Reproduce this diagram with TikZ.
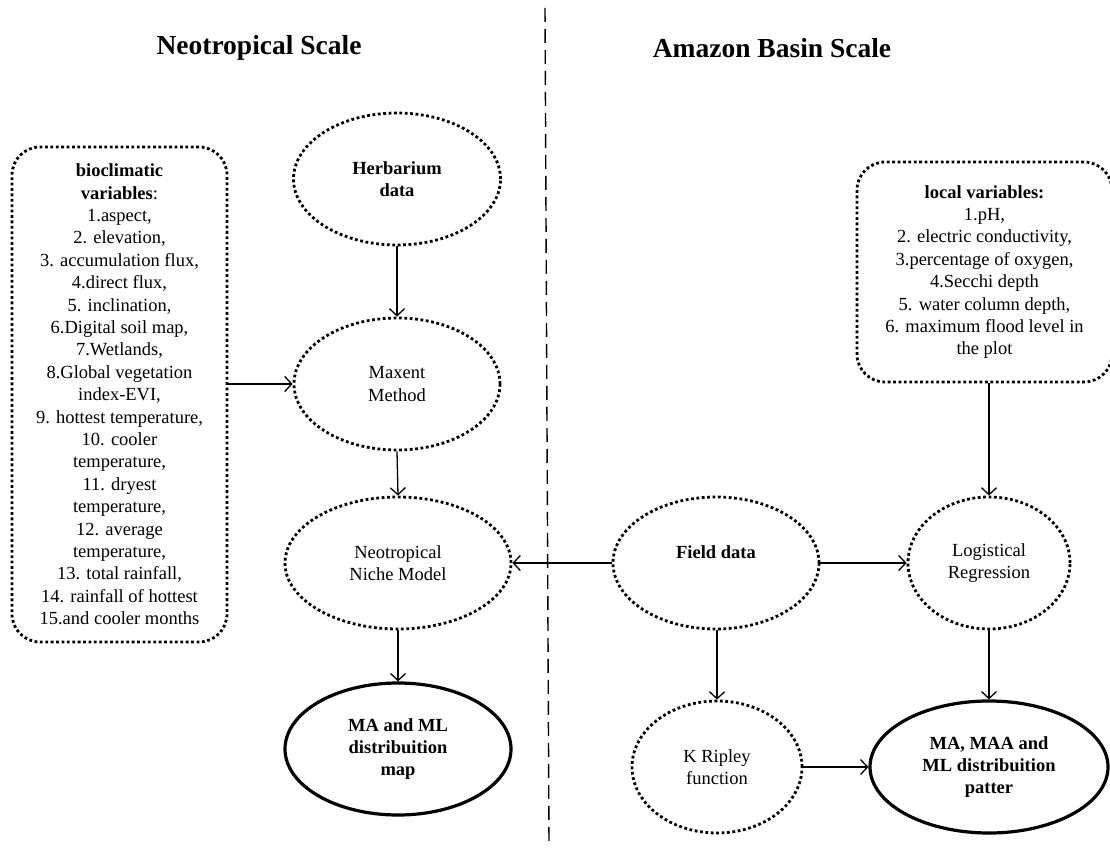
\documentclass[tikz,border=0pt]{standalone}
\usepackage{fontspec}
\setmainfont{Liberation Serif}
\usetikzlibrary{shapes.geometric,arrows.meta}
\begin{document}
\begin{tikzpicture}[x=1pt,y=-1pt,
  body/.style={font=\fontsize{18.5}{22.4}\selectfont, align=center},
  dotline/.style={draw, line width=2.8pt, dash pattern=on 2.8pt off 2.6pt},
  dotell/.style={ellipse, dotline, inner sep=0pt, body},
  solidell/.style={ellipse, draw, line width=3.2pt, inner sep=0pt, body},
  dotbox/.style={rectangle, rounded corners=28pt, dotline, inner sep=0pt, body},
  conn/.style={-{Straight Barb[length=7pt,width=15pt]}, line width=1.3pt},
  titletext/.style={font=\fontsize{27.5}{32}\selectfont\bfseries},
  divider/.style={dash pattern=on 14pt off 7pt, line width=1.4pt}]

\useasboundingbox (0,0) rectangle (1110,850);

% titles
\node[titletext] (t1) at (259,48) {Neotropical Scale};
\node[titletext] (t2) at (772,48) {Amazon Basin Scale};

% divider
\coordinate (dtop) at (545,8);
\coordinate (dbot) at (549,845);
\draw[divider] (dtop) -- (dbot);

% left variable box
\node[dotbox, minimum width=215pt, minimum height=495pt] (bio) at (119.5,394.5)
 {\textbf{bioclimatic}\\\textbf{variables}:\\1.aspect,\\2. elevation,\\3. accumulation flux,\\4.direct flux,\\5. inclination,\\6.Digital soil map,\\7.Wetlands,\\8.Global vegetation\\index-EVI,\\9. hottest temperature,\\10. cooler\\temperature,\\11. dryest\\temperature,\\12. average\\temperature,\\13. total rainfall,\\14. rainfall of hottest\\15.and cooler months};

% right variable box
\node[dotbox, minimum width=255pt, minimum height=220pt] (loc) at (984.5,272)
 {\textbf{local variables:}\\1.pH,\\2. electric conductivity,\\3.percentage of oxygen,\\4.Secchi depth\\5. water column depth,\\6. maximum flood level in\\the plot};

% ellipses
\node[dotell, minimum width=207pt, minimum height=132pt] (herb) at (397,179) {\textbf{Herbarium}\\\textbf{data}};
\node[dotell, minimum width=206pt, minimum height=132pt] (maxent) at (397,384) {Maxent\\Method};
\node[dotell, minimum width=226pt, minimum height=132pt] (niche) at (398,563) {Neotropical\\Niche Model};
\node[solidell, minimum width=226pt, minimum height=132pt] (map) at (398,749) {\textbf{MA and ML}\\\textbf{distribuition}\\\textbf{map}};
\node[dotell, minimum width=206pt, minimum height=132pt] (field) at (716,563) {\textbf{Field data}\\\mbox{}};
\node[dotell, minimum width=162pt, minimum height=132pt] (logit) at (989,563) {Logistical\\Regression};
\node[dotell, minimum width=170pt, minimum height=132pt] (krip) at (717,767) {K Ripley\\function};
\node[solidell, minimum width=238pt, minimum height=132pt] (pat) at (989,767) {\textbf{MA, MAA and}\\\textbf{ML distribuition}\\\textbf{patter}};

% connectors
\draw[conn] (bio.east |- maxent.west) -- (maxent.west);
\draw[conn] (herb.south) -- (maxent.north);
\draw[conn] (maxent.south) -- (niche.north);
\draw[conn] (niche.south) -- (map.north);
\draw[conn] (field.west) -- (niche.east);
\draw[conn] (field.east) -- (logit.west);
\draw[conn] (logit.north |- loc.south) -- (logit.north);
\draw[conn] (logit.south) -- (pat.north);
\draw[conn] (field.south -| krip.north) -- (krip.north);
\draw[conn] (krip.east) -- (pat.west);
\end{tikzpicture}
\end{document}
